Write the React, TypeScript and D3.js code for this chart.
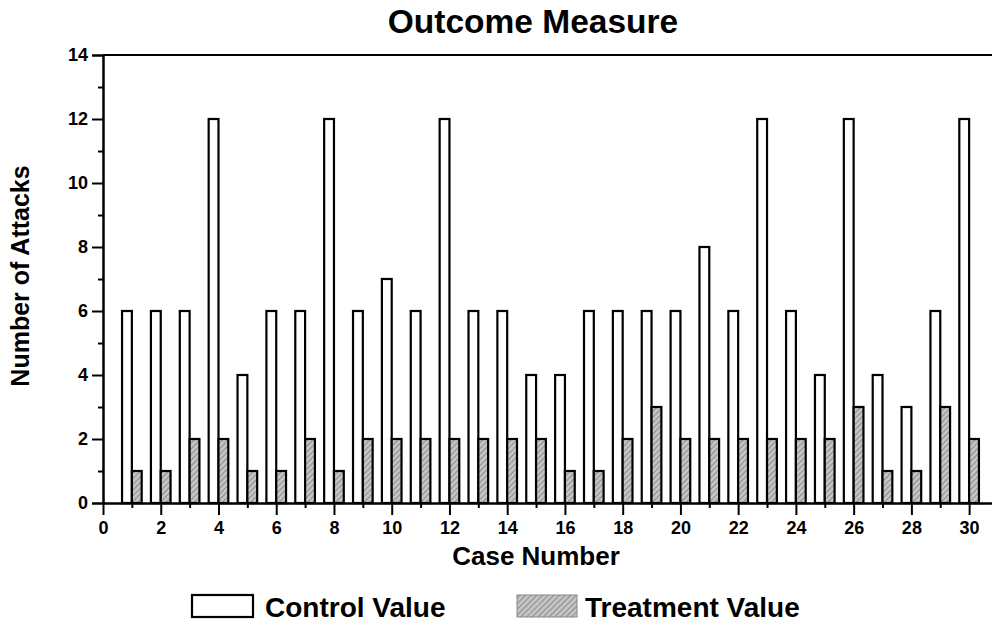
import { useEffect, useRef } from 'react';
import * as d3 from 'd3';

const caseNumbers = [1, 2, 3, 4, 5, 6, 7, 8, 9, 10, 11, 12, 13, 14, 15, 16, 17, 18, 19, 20, 21, 22, 23, 24, 25, 26, 27, 28, 29, 30];
const controlValues = [6, 6, 6, 12, 4, 6, 6, 12, 6, 7, 6, 12, 6, 6, 4, 4, 6, 6, 6, 6, 8, 6, 12, 6, 4, 12, 4, 3, 6, 12];
const treatmentValues = [1, 1, 2, 2, 1, 1, 2, 1, 2, 2, 2, 2, 2, 2, 2, 1, 1, 2, 3, 2, 2, 2, 2, 2, 2, 3, 1, 1, 3, 2];
const xMajorTicks = [0, 2, 4, 6, 8, 10, 12, 14, 16, 18, 20, 22, 24, 26, 28, 30];
const xMinorTicks = [1, 3, 5, 7, 9, 11, 13, 15, 17, 19, 21, 23, 25, 27, 29];
const yMajorTicks = [0, 2, 4, 6, 8, 10, 12, 14];
const yMinorTicks = [1, 3, 5, 7, 9, 11, 13];

const width = 992;
const height = 625;
const margin = { top: 55, right: -6, bottom: 122, left: 103 };
const barW = 0.34;
const font = '"Liberation Sans", Arial, sans-serif';

const App = () => {
  const ref = useRef<SVGSVGElement>(null);

  useEffect(() => {
    const svg = d3.select(ref.current);
    svg.selectAll('*').remove();

    const x = d3.scaleLinear().domain([0, 31]).range([margin.left, width - margin.right]);
    const y = d3.scaleLinear().domain([0, 14]).range([height - margin.bottom, margin.top]);

    const defs = svg.append('defs');
    const pat = defs
      .append('pattern')
      .attr('id', 'hatch')
      .attr('patternUnits', 'userSpaceOnUse')
      .attr('width', 4)
      .attr('height', 4)
      .attr('patternTransform', 'rotate(45)');
    pat.append('rect').attr('width', 4).attr('height', 4).attr('fill', '#c4c4c4');
    pat.append('line').attr('x1', 0).attr('y1', 0).attr('x2', 0).attr('y2', 4)
      .attr('stroke', '#555').attr('stroke-width', 1);

    const bars = svg.append('g');
    // control bars sit left of the case number, treatment bars right of it
    bars.selectAll('rect.control')
      .data(caseNumbers)
      .join('rect')
      .attr('class', 'control')
      .attr('x', (d) => x(d - barW))
      .attr('y', (d, i) => y(controlValues[i]))
      .attr('width', x(barW) - x(0))
      .attr('height', (d, i) => y(0) - y(controlValues[i]))
      .attr('fill', '#fff')
      .attr('stroke', '#000')
      .attr('stroke-width', 2.2);
    bars.selectAll('rect.treat')
      .data(caseNumbers)
      .join('rect')
      .attr('class', 'treat')
      .attr('x', (d) => x(d))
      .attr('y', (d, i) => y(treatmentValues[i]))
      .attr('width', x(barW) - x(0))
      .attr('height', (d, i) => y(0) - y(treatmentValues[i]))
      .attr('fill', 'url(#hatch)')
      .attr('stroke', '#000')
      .attr('stroke-width', 2.2);

    const styleAxis = (g: any, labels: boolean) => {
      g.select('.domain').attr('stroke-width', 2);
      g.selectAll('.tick line').attr('stroke-width', 2);
      if (labels) {
        g.selectAll('.tick text')
          .attr('font-family', font)
          .attr('font-weight', 'bold')
          .attr('font-size', 18)
          .attr('fill', '#000');
      }
    };

    // left axis
    svg.append('g')
      .attr('transform', `translate(${margin.left},0)`)
      .call(d3.axisLeft(y).tickValues(yMajorTicks).tickSize(11).tickPadding(4).tickFormat(d3.format('d')))
      .call((g) => styleAxis(g, true));
    svg.append('g')
      .attr('transform', `translate(${margin.left},0)`)
      .call(d3.axisLeft(y).tickValues(yMinorTicks).tickSize(5).tickSizeOuter(0).tickFormat(() => ''))
      .call((g) => styleAxis(g, false));

    // right axis, inward ticks
    const rx = width - margin.right;
    svg.append('g')
      .attr('transform', `translate(${rx},0)`)
      .call(d3.axisLeft(y).tickValues(yMajorTicks).tickSize(-11).tickSizeOuter(0).tickFormat(() => ''))
      .call((g) => styleAxis(g, false));
    svg.append('g')
      .attr('transform', `translate(${rx},0)`)
      .call(d3.axisLeft(y).tickValues(yMinorTicks).tickSize(-5).tickSizeOuter(0).tickFormat(() => ''))
      .call((g) => styleAxis(g, false));

    // bottom axis
    const by = height - margin.bottom;
    svg.append('g')
      .attr('transform', `translate(0,${by})`)
      .call(d3.axisBottom(x).tickValues(xMajorTicks).tickSize(12).tickSizeOuter(0).tickPadding(6).tickFormat(d3.format('d')))
      .call((g) => styleAxis(g, true));
    svg.append('g')
      .attr('transform', `translate(0,${by})`)
      .call(d3.axisBottom(x).tickValues(xMinorTicks).tickSize(5).tickSizeOuter(0).tickFormat(() => ''))
      .call((g) => styleAxis(g, false));

    // top frame line
    svg.append('line')
      .attr('x1', margin.left).attr('x2', rx)
      .attr('y1', margin.top).attr('y2', margin.top)
      .attr('stroke', '#000').attr('stroke-width', 2);

    const text = (t: string, tx: number, ty: number, size: number, anchor = 'middle') =>
      svg.append('text')
        .attr('x', tx).attr('y', ty)
        .attr('text-anchor', anchor)
        .attr('font-family', font)
        .attr('font-weight', 'bold')
        .attr('font-size', size)
        .attr('fill', '#000')
        .text(t);

    text('Outcome Measure', 533, 33, 33.5);
    text('Case Number', 536, 565, 26);
    text('Number of Attacks', 0, 0, 25).attr('transform', 'translate(29,276) rotate(-90)');

    // legend
    svg.append('rect').attr('x', 192).attr('y', 595).attr('width', 61).attr('height', 22)
      .attr('fill', '#fff').attr('stroke', '#000').attr('stroke-width', 2.2);
    text('Control Value', 265, 617, 28, 'start');
    svg.append('rect').attr('x', 517).attr('y', 595).attr('width', 60).attr('height', 22)
      .attr('fill', 'url(#hatch)').attr('stroke', '#888').attr('stroke-width', 1);
    text('Treatment Value', 585, 617, 28, 'start');
  }, []);

  return (
    <div style={{ position: 'absolute', left: 0, top: 0 }}>
      <svg ref={ref} width={width} height={height} viewBox={`0 0 ${width} ${height}`} />
    </div>
  );
};

export default App;
